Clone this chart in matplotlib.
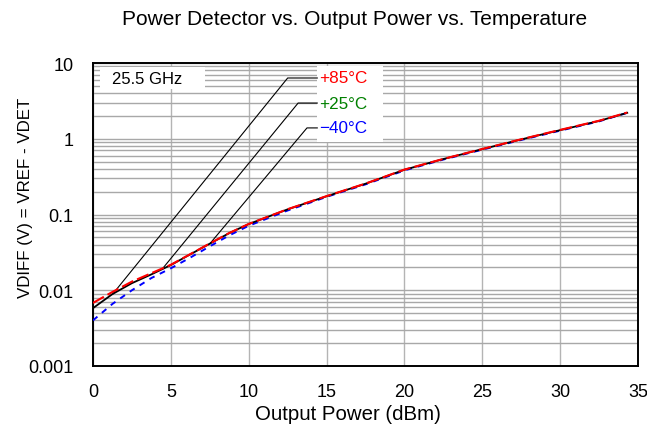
import matplotlib.pyplot as plt
import numpy as np
from matplotlib.patches import Rectangle

plt.rcParams['font.family'] = ['Liberation Sans', 'DejaVu Sans']

# Output power (dBm) and VDIFF (V) per temperature
power = [0, 1.25, 2.5, 3.75, 5, 6.25, 7.5, 8.75, 10, 12.5, 15, 17.5, 20, 22.5, 25, 27.5, 30, 32.5, 34.3]
vdiff_p85 = [0.0068, 0.0095, 0.0130, 0.0168, 0.0217, 0.0300, 0.0415, 0.0570, 0.0750, 0.1175, 0.175, 0.256, 0.392, 0.542, 0.733, 0.985, 1.31, 1.73, 2.22]
vdiff_p25 = [0.0058, 0.0089, 0.0124, 0.0162, 0.0215, 0.0298, 0.0412, 0.0568, 0.0748, 0.1170, 0.174, 0.255, 0.390, 0.540, 0.730, 0.980, 1.30, 1.72, 2.20]
vdiff_m40 = [0.0040, 0.0066, 0.0100, 0.0145, 0.0195, 0.0270, 0.0380, 0.0530, 0.0710, 0.1130, 0.171, 0.250, 0.382, 0.532, 0.718, 0.965, 1.28, 1.70, 2.20]

labels = ['+85°C', '+25°C', '\u221240°C']
label_colors = ['#ff0000', '#008000', '#0000ff']
# power where each leader line touches the curve, and its elbow
touch_power = [1.28, 4.43, 7.51]
elbow = [(12.5, 6.34), (13.17, 2.96), (13.74, 1.39)]
label_x = 14.4

fig = plt.figure(figsize=(6.47, 4.31), dpi=100)
ax = fig.add_axes([0.1437, 0.1485, 0.8426, 0.703])

ax.plot(power, vdiff_m40, color='#0000ff', lw=1.4, ls=(0, (3, 3)), zorder=3)
ax.plot(power, vdiff_p25, color='black', lw=1.3, zorder=4)
ax.plot(power, vdiff_p85, color='#ff0000', lw=1.5, ls=(0, (6, 2)), zorder=5)

ax.set_yscale('log')
ax.set_xlim(0, 35)
ax.set_ylim(0.001, 10)
ax.set_xticks(np.arange(0, 36, 5))
ax.set_yticks([0.001, 0.01, 0.1, 1, 10])
ax.set_yticklabels(['0.001', '0.01', '0.1', '1', '10'])
ax.yaxis.set_minor_formatter(plt.NullFormatter())
ax.tick_params(which='both', length=0, labelsize=13)
ax.tick_params(axis='y', pad=14)
ax.tick_params(axis='x', pad=12)

ax.set_axisbelow(True)
ax.grid(True, which='major', axis='x', color='#b4b4b4', lw=1)
ax.grid(True, which='both', axis='y', color='#a8a8a8', lw=1)
for s in ax.spines.values():
    s.set_linewidth(1.4)
    s.set_color('black')

ax.set_xlabel('Output Power (dBm)', fontsize=14.7)
ax.xaxis.set_label_coords(0.468, -0.126)
ax.set_ylabel('VDIFF (V) = VREF - VDET', fontsize=12.2)
ax.yaxis.set_label_coords(-0.110, 0.559)
ax.set_title('Power Detector vs. Output Power vs. Temperature', fontsize=15, pad=28, x=0.48)

# white boxes for frequency note and temperature labels
ax.add_patch(Rectangle((0.013, 0.914), 0.193, 0.073, transform=ax.transAxes,
                       facecolor='white', edgecolor='none', zorder=2))
ax.text(0.034, 0.95, '25.5 GHz', transform=ax.transAxes, fontsize=12,
        va='center', ha='left', zorder=6)
ax.add_patch(Rectangle((0.411, 0.739), 0.121, 0.251, transform=ax.transAxes,
                       facecolor='white', edgecolor='none', zorder=2))

logv = np.log10(vdiff_p25)
for lab, col, tp, (ex, ey) in zip(labels, label_colors, touch_power, elbow):
    ty = 10 ** np.interp(tp, power, logv)
    ax.plot([tp, ex, label_x], [ty, ey, ey], color='black', lw=0.8, zorder=4)
    ax.text(label_x + 0.15, ey, lab, color=col, fontsize=12.3, va='center', ha='left', zorder=6)

fig.savefig('out.png', dpi=100)
